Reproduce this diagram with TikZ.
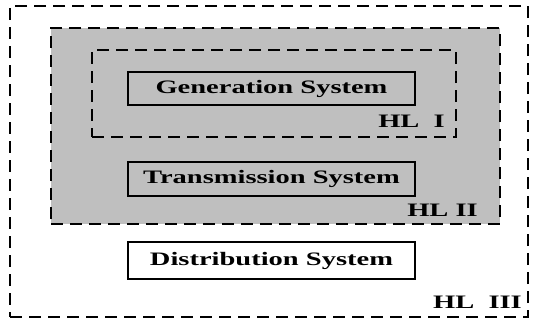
\documentclass[tikz,border=0pt]{standalone}
\usepackage{fontspec}
\newfontfamily\hlfont[FakeStretch=1.5]{Liberation Serif}
\usetikzlibrary{positioning}

\begin{document}
\begin{tikzpicture}[x=1pt,y=-1pt,font=\hlfont\bfseries\fontsize{19}{22}\selectfont]
  \tikzstyle{level}=[draw=black,dash pattern=on 12pt off 7pt,line width=1.6pt,inner sep=0pt]
  \tikzstyle{sysbox}=[draw=black,fill=white,line width=1.2pt,minimum width=287pt,inner sep=0pt]
  \tikzstyle{hl}=[anchor=base east,inner sep=0pt]

  \useasboundingbox (0,0) rectangle (535,324);

  % hierarchical levels
  \node[level,minimum width=518pt,minimum height=311pt] (hl3) at (269,161.5) {};
  \node[level,fill=black!25,minimum width=449pt,minimum height=196pt] (hl2) at (275.5,126) {};
  \node[level,minimum width=364pt,minimum height=87pt] (hl1) at (274,93.5) {};

  % subsystems
  \node[sysbox,fill=black!25,minimum height=33pt] (gen) at (271.5,88.5) {Generation System};
  \node[sysbox,fill=black!25,minimum height=34pt] (trans) at (271.5,179) {Transmission System};
  \node[sysbox,minimum height=37pt] (dist) at (271.5,260.5) {Distribution System};

  \node[hl] (lab1) at (445,127) {HL~~I};
  \node[hl] (lab2) at (478,216) {HL II};
  \node[hl] (lab3) at (522,308) {HL~~III};
\end{tikzpicture}
\end{document}
